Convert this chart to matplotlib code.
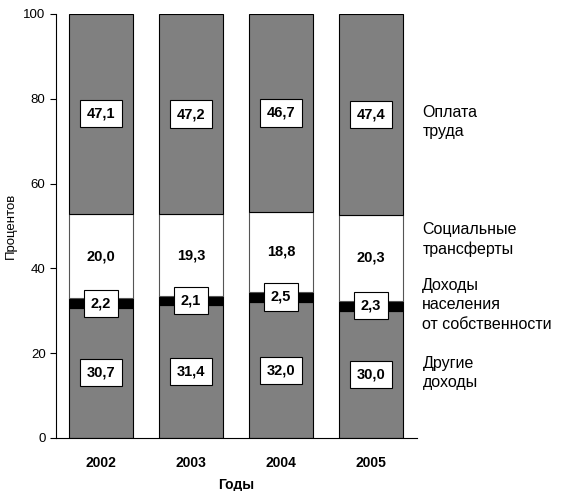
import numpy as np
import matplotlib.pyplot as plt

plt.rcParams['font.family'] = ['Liberation Sans', 'DejaVu Sans']

years = ['2002', '2003', '2004', '2005']
other = [30.7, 31.4, 32.0, 30.0]        # Другие доходы
prop = [2.2, 2.1, 2.5, 2.3]             # Доходы от собственности
social = [20.0, 19.3, 18.8, 20.3]       # Социальные трансферты
labour = [47.1, 47.2, 46.7, 47.4]       # Оплата труда

x = np.arange(len(years))
w = 0.71
fmt = lambda v: f'{v:.1f}'.replace('.', ',')

fig = plt.figure(figsize=(5.63, 4.91), dpi=100)
ax = fig.add_axes([0.0995, 0.108, 0.641, 0.8635])

b1 = np.array(other)
b2 = b1 + np.array(prop)
b3 = b2 + np.array(social)
ax.bar(x, other, w, color='#808080', edgecolor='black', linewidth=0.8)
ax.bar(x, prop, w, bottom=b1, color='black', edgecolor='black', linewidth=0.8)
ax.bar(x, social, w, bottom=b2, color='white', edgecolor='#555555', linewidth=0.8)
ax.bar(x, labour, w, bottom=b3, color='#808080', edgecolor='black', linewidth=0.8)

box = dict(boxstyle='square,pad=0.45', fc='white', ec='black', lw=0.8)
for i in range(len(years)):
    ax.text(x[i], other[i] / 2, fmt(other[i]), ha='center', va='center',
            fontsize=10.5, fontweight='bold', bbox=box)
    ax.text(x[i], b1[i] + prop[i] / 2, fmt(prop[i]), ha='center', va='center',
            fontsize=10.5, fontweight='bold', bbox=box)
    ax.text(x[i], b2[i] + social[i] / 2, fmt(social[i]), ha='center', va='center',
            fontsize=10.5, fontweight='bold')
    ax.text(x[i], b3[i] + labour[i] / 2, fmt(labour[i]), ha='center', va='center',
            fontsize=10.5, fontweight='bold', bbox=box)

# подписи справа
fs = 11.5
ax.text(3.57, 74.5, 'Оплата\nтруда', ha='left', va='center', fontsize=fs,
        linespacing=1.35, clip_on=False)
ax.text(3.57, 46.9, 'Социальные\nтрансферты', ha='left', va='center', fontsize=fs,
        linespacing=1.35, clip_on=False)
ax.text(3.57, 31.4, 'Доходы\nнаселения\nот собственности', ha='left', va='center',
        fontsize=fs, linespacing=1.35, clip_on=False)
ax.text(3.58, 15.3, 'Другие\nдоходы', ha='left', va='center', fontsize=fs,
        linespacing=1.35, clip_on=False)

ax.set_xlim(-0.5, 3.51)
ax.set_ylim(0, 100)
ax.set_yticks([0, 20, 40, 60, 80, 100])
ax.set_xticks(x)
ax.set_xticklabels(years, fontweight='bold', fontsize=10)
ax.tick_params(axis='x', length=0, pad=13)
ax.tick_params(axis='y', labelsize=9.5, direction='out', length=4)
ax.spines['top'].set_visible(False)
ax.spines['right'].set_visible(False)
ax.set_xlabel('Годы', fontweight='bold', fontsize=10, labelpad=6)
ax.set_ylabel('Процентов', fontsize=9.5, labelpad=5)

fig.savefig('out.png', dpi=100)
